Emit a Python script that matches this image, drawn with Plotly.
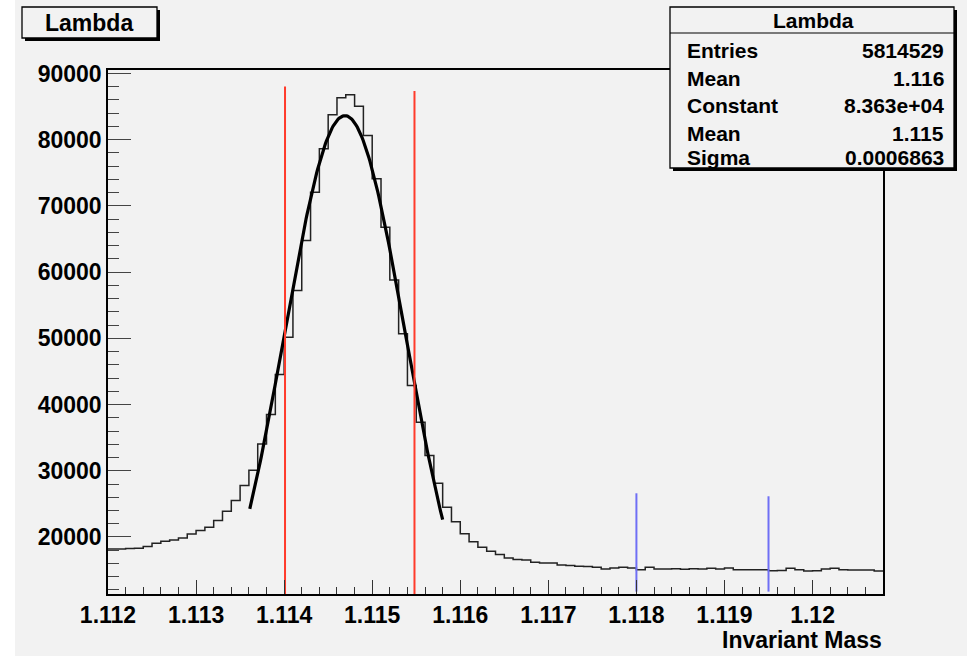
import plotly.graph_objects as go
import numpy as np

# ---- data ----
bin_low = 1.112
bin_width = 0.0001
counts = [18200, 18200, 18250, 18300, 18550, 19050, 19350, 19560, 19860, 20460,
          20970, 21470, 22480, 23880, 25500, 27760, 30080, 34060, 38490, 44530,
          50170, 57220, 64770, 72070, 78620, 83760, 86330, 86780, 85060, 80630,
          74090, 66780, 58830, 50680, 42870, 37330, 32300, 28110, 24490, 22300,
          20500, 19300, 18440, 17840, 17340, 16840, 16590, 16540, 16180, 16080,
          16080, 15780, 15680, 15580, 15540, 15430, 15180, 15330, 15430, 15330,
          15070, 15430, 15180, 15180, 15200, 15130, 15200, 15150, 15280, 15180,
          15330, 15070, 15070, 15070, 15050, 14920, 14950, 15280, 15070, 14870,
          14920, 15180, 15280, 15070, 15020, 15020, 15020, 14870]

fit_constant = 83630
fit_mean = 1.11469
fit_sigma = 0.0006863
fit_range = [1.11361, 1.11580]

signal_cut_x = [1.11401, 1.11548]
signal_cut_top = [88040, 87360]
side_cut_x = [1.118, 1.1195]
side_cut_top = [26600, 26150]
side_cut_bottom = [11750, 11750]

x_range = [1.112, 1.1208]
y_range = [11390, 90530]
x_tick_vals = [1.112, 1.113, 1.114, 1.115, 1.116, 1.117, 1.118, 1.119, 1.120]
x_tick_text = ["1.112", "1.113", "1.114", "1.115", "1.116", "1.117", "1.118", "1.119", "1.12"]
y_tick_vals = [20000, 30000, 40000, 50000, 60000, 70000, 80000, 90000]
y_tick_text = ["20000", "30000", "40000", "50000", "60000", "70000", "80000", "90000"]

stats_labels = ["Entries", "Mean", "Constant", "Mean", "Sigma"]
stats_values = ["5814529", "1.116", "8.363e+04", "1.115", "0.0006863"]

# ---- layout geometry (pixels) ----
W, H = 967, 656
L, R, T, B = 108, 883, 70, 594
BG = "#f2f2f2"
FONT = "Liberation Sans"


def px(x):
    return (x - L) / (R - L)


def py(y):
    return (B - y) / (B - T)


edges = [bin_low + i * bin_width for i in range(len(counts) + 1)]
hist_y = counts + [counts[-1]]

fx = np.linspace(fit_range[0], fit_range[1], 200)
fy = fit_constant * np.exp(-0.5 * ((fx - fit_mean) / fit_sigma) ** 2)

fig = go.Figure()
fig.add_trace(go.Scatter(x=edges, y=hist_y, mode="lines", line=dict(shape="hv", color="#222222", width=1.5),
                         hoverinfo="skip", showlegend=False))
fig.add_trace(go.Scatter(x=fx, y=fy, mode="lines", line=dict(color="black", width=3.2),
                         hoverinfo="skip", showlegend=False))
for xv, top in zip(signal_cut_x, signal_cut_top):
    fig.add_trace(go.Scatter(x=[xv, xv], y=[y_range[0], top], mode="lines",
                             line=dict(color="#ff3b2b", width=2), showlegend=False, hoverinfo="skip"))
for xv, top, bot in zip(side_cut_x, side_cut_top, side_cut_bottom):
    fig.add_trace(go.Scatter(x=[xv, xv], y=[bot, top], mode="lines",
                             line=dict(color="#6f6ff5", width=2), showlegend=False, hoverinfo="skip"))

shapes = []
# white strip on the left of the canvas
shapes.append(dict(type="rect", xref="paper", yref="paper", x0=px(-5), x1=px(15), y0=py(-5), y1=py(H + 5),
                   fillcolor="white", line=dict(width=0), layer="below"))


def box(x0, y0, x1, y1, sh=3):
    return [
        dict(type="rect", xref="paper", yref="paper", x0=px(x0 + sh), x1=px(x1 + sh), y0=py(y1 + sh), y1=py(y0 + sh),
             fillcolor="black", line=dict(width=0), layer="above"),
        dict(type="rect", xref="paper", yref="paper", x0=px(x0), x1=px(x1), y0=py(y1), y1=py(y0),
             fillcolor=BG, line=dict(color="black", width=1.3), layer="above"),
    ]


shapes += box(22, 7, 157, 38)
shapes += box(670, 7, 954, 168)
shapes.append(dict(type="line", xref="paper", yref="paper", x0=px(670), x1=px(954), y0=py(33), y1=py(33),
                   line=dict(color="black", width=1), layer="above"))

annotations = []
annotations.append(dict(xref="paper", yref="paper", x=px(89), y=py(23), text="Lambda", showarrow=False,
                        xanchor="center", yanchor="middle", font=dict(family=FONT, size=23, color="black", weight="bold")))
annotations.append(dict(xref="paper", yref="paper", x=px(813), y=py(21), text="Lambda", showarrow=False,
                        xanchor="center", yanchor="middle", font=dict(family=FONT, size=21, color="black", weight="bold")))
row_y = [50, 78, 105, 133, 158]
for lab, val, yy in zip(stats_labels, stats_values, row_y):
    annotations.append(dict(xref="paper", yref="paper", x=px(685), y=py(yy), text=lab, showarrow=False,
                            xanchor="left", yanchor="middle", font=dict(family=FONT, size=21, color="black", weight="bold")))
    annotations.append(dict(xref="paper", yref="paper", x=px(946), y=py(yy), text=val, showarrow=False,
                            xanchor="right", yanchor="middle", font=dict(family=FONT, size=21, color="black", weight="bold")))
annotations.append(dict(xref="paper", yref="paper", x=px(884), y=py(640), text="Invariant Mass", showarrow=False,
                        xanchor="right", yanchor="middle", font=dict(family=FONT, size=23, color="black", weight="bold")))

fig.update_layout(
    width=W, height=H,
    margin=dict(l=L, r=W - R, t=T, b=H - B, pad=0),
    paper_bgcolor=BG, plot_bgcolor=BG,
    shapes=shapes, annotations=annotations,
    font=dict(family=FONT, size=23, color="black", weight="bold"),
    showlegend=False,
)
fig.update_xaxes(range=x_range, tickvals=x_tick_vals, ticktext=x_tick_text, ticks="inside", ticklen=14,
                 tickwidth=1, tickcolor="#333333", showgrid=False, zeroline=False,
                 showline=True, linecolor="black", linewidth=1.5, mirror=True,
                 minor=dict(dtick=0.0002, tick0=1.112, ticks="inside", ticklen=7, tickcolor="#333333", tickwidth=1, showgrid=False),
                 tickfont=dict(family=FONT, size=23, color="black", weight="bold"))
fig.update_yaxes(range=y_range, tickvals=y_tick_vals, ticktext=y_tick_text, ticks="inside", ticklen=23,
                 tickwidth=1, tickcolor="#444444", showgrid=False, zeroline=False,
                 showline=True, linecolor="black", linewidth=1.5, mirror=True,
                 minor=dict(dtick=2000, tick0=0, ticks="inside", ticklen=11, tickcolor="#444444", tickwidth=1, showgrid=False),
                 tickfont=dict(family=FONT, size=23, color="black", weight="bold"))

fig.write_html("out.html")
